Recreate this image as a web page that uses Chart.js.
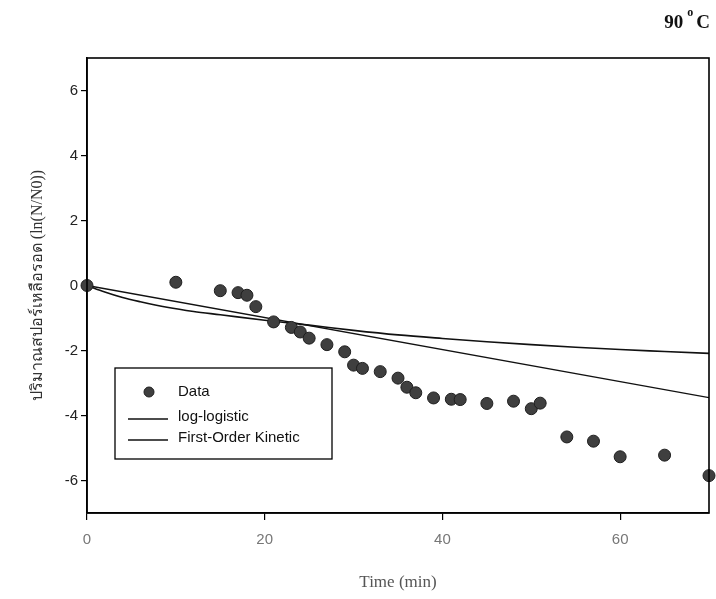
<!DOCTYPE html>
<html>
<head>
<meta charset="utf-8">
<script src="https://cdn.jsdelivr.net/npm/chart.js@4.4.0/dist/chart.umd.min.js"></script>
<style>
  body { margin: 0; background: #fff; }
  #wrap { width: 716px; height: 599px; }
</style>
</head>
<body>
<div id="wrap"><canvas id="survival" width="716" height="599"></canvas></div>
<script>
// =====================
// Spore survival at 90 C
// =====================
var dataTimes = [0, 10, 15, 17, 18, 19, 21, 23, 24, 25, 27, 29, 30, 31, 33, 35, 36, 37, 39, 41, 42, 45, 48, 50, 51, 54, 57, 60, 65, 70];
var dataValues = [0, 0.10, -0.16, -0.22, -0.30, -0.65, -1.12, -1.29, -1.43, -1.62, -1.82, -2.04, -2.45, -2.55, -2.65, -2.85, -3.13, -3.30, -3.46, -3.50, -3.51, -3.63, -3.56, -3.79, -3.62, -4.66, -4.79, -5.27, -5.22, -5.85];

var logLogTimes = [0, 2, 4, 6, 9, 12, 15, 20, 25, 30, 35, 40, 45, 50, 55, 60, 65, 70];
var logLogValues = [0, -0.2, -0.37, -0.5, -0.67, -0.8, -0.9, -1.07, -1.22, -1.38, -1.52, -1.63, -1.73, -1.82, -1.9, -1.97, -2.03, -2.09];

var firstOrderTimes = [0, 70];
var firstOrderValues = [0, -3.45];

var xTicks = [0, 20, 40, 60];
var yTicks = [-6, -4, -2, 0, 2, 4, 6];

var seriesLabels = ['Data', 'log-logistic', 'First-Order Kinetic'];

function toPoints(xs, ys) {
  return xs.map(function (x, i) { return { x: x, y: ys[i] }; });
}

// frame, title and legend box drawn on the canvas
var framePlugin = {
  id: 'frame',
  afterDraw: function (chart) {
    var ctx = chart.ctx;
    var a = chart.chartArea;
    ctx.save();
    ctx.strokeStyle = '#000';
    ctx.lineWidth = 1.6;
    ctx.strokeRect(a.left, a.top, a.right - a.left, a.bottom - a.top);

    // title
    ctx.fillStyle = '#111';
    ctx.font = 'bold 19px "Liberation Serif"';
    ctx.textAlign = 'right';
    ctx.textBaseline = 'alphabetic';
    ctx.fillText('C', 710, 28);
    var cw = ctx.measureText('C').width;
    ctx.font = 'bold 12px "Liberation Serif"';
    ctx.fillText('o', 710 - cw - 3, 16);
    ctx.font = 'bold 19px "Liberation Serif"';
    ctx.fillText('90', 710 - cw - 13, 28);

    // legend box
    var bx = 115, by = 368, bw = 217, bh = 91;
    ctx.lineWidth = 1.3;
    ctx.strokeRect(bx, by, bw, bh);
    var rows = [392, 417, 438];
    var ds = chart.data.datasets;
    ctx.font = '15px "Liberation Sans"';
    ctx.textAlign = 'left';
    ctx.textBaseline = 'middle';
    ds.forEach(function (d, i) {
      var y = rows[i];
      if (i === 0) {
        ctx.beginPath();
        ctx.arc(149, y, 5, 0, Math.PI * 2);
        ctx.fillStyle = d.backgroundColor;
        ctx.fill();
        ctx.lineWidth = 1;
        ctx.strokeStyle = d.borderColor;
        ctx.stroke();
      } else {
        ctx.beginPath();
        ctx.moveTo(128, y + 2);
        ctx.lineTo(168, y + 2);
        ctx.lineWidth = d.borderWidth;
        ctx.strokeStyle = d.borderColor;
        ctx.stroke();
      }
      ctx.fillStyle = '#111';
      ctx.fillText(d.label, 178, y);
    });
    ctx.restore();
  }
};

var ctxSurvival = document.getElementById('survival').getContext('2d');

var survivalChart = new Chart(ctxSurvival, {
  type: 'scatter',
  data: {
    datasets: [
      {
        label: seriesLabels[0],
        data: toPoints(dataTimes, dataValues),
        backgroundColor: '#3f3f3f',
        borderColor: '#1e1e1e',
        borderWidth: 1,
        pointRadius: 6,
        showLine: false,
        clip: false,
        order: 0
      },
      {
        label: seriesLabels[1],
        data: toPoints(logLogTimes, logLogValues),
        borderColor: '#111',
        backgroundColor: '#111',
        borderWidth: 1.6,
        pointRadius: 0,
        showLine: true,
        cubicInterpolationMode: 'monotone',
        order: 1
      },
      {
        label: seriesLabels[2],
        data: toPoints(firstOrderTimes, firstOrderValues),
        borderColor: '#111',
        backgroundColor: '#111',
        borderWidth: 1.3,
        pointRadius: 0,
        showLine: true,
        order: 2
      }
    ]
  },
  options: {
    responsive: false,
    animation: false,
    layout: { padding: { top: 58, right: 3, left: 0, bottom: 0 } },
    plugins: {
      legend: { display: false },
      tooltip: { enabled: false }
    },
    scales: {
      x: {
        type: 'linear',
        min: 0,
        max: 70,
        afterFit: function (scale) { scale.height = 86; },
        afterBuildTicks: function (scale) {
          scale.ticks = xTicks.map(function (v) { return { value: v }; });
        },
        grid: { drawOnChartArea: false, drawTicks: true, tickLength: 7, color: '#000', lineWidth: 1.2 },
        border: { color: '#000', width: 1.6 },
        ticks: { color: '#777', font: { family: 'Liberation Sans', size: 15 }, padding: 11 },
        title: {
          display: true,
          text: 'Time (min)',
          color: '#555',
          font: { family: 'Liberation Serif', size: 17 },
          padding: { top: 0, bottom: 6 }
        }
      },
      y: {
        type: 'linear',
        min: -7,
        max: 7,
        afterFit: function (scale) { scale.width = 87; },
        afterBuildTicks: function (scale) {
          scale.ticks = yTicks.map(function (v) { return { value: v }; });
        },
        grid: { drawOnChartArea: false, drawTicks: true, tickLength: 6, color: '#000', lineWidth: 1.2 },
        border: { color: '#000', width: 1.6 },
        ticks: { color: '#222', font: { family: 'Liberation Sans', size: 15 }, padding: 3 },
        title: {
          display: true,
          text: 'ปริมาณสปอร์เหลือรอด (ln(N/N0))',
          color: '#333',
          font: { family: 'Liberation Serif', size: 16 },
          padding: { top: 28, bottom: 0 }
        }
      }
    }
  },
  plugins: [framePlugin]
});
</script>
</body>
</html>
